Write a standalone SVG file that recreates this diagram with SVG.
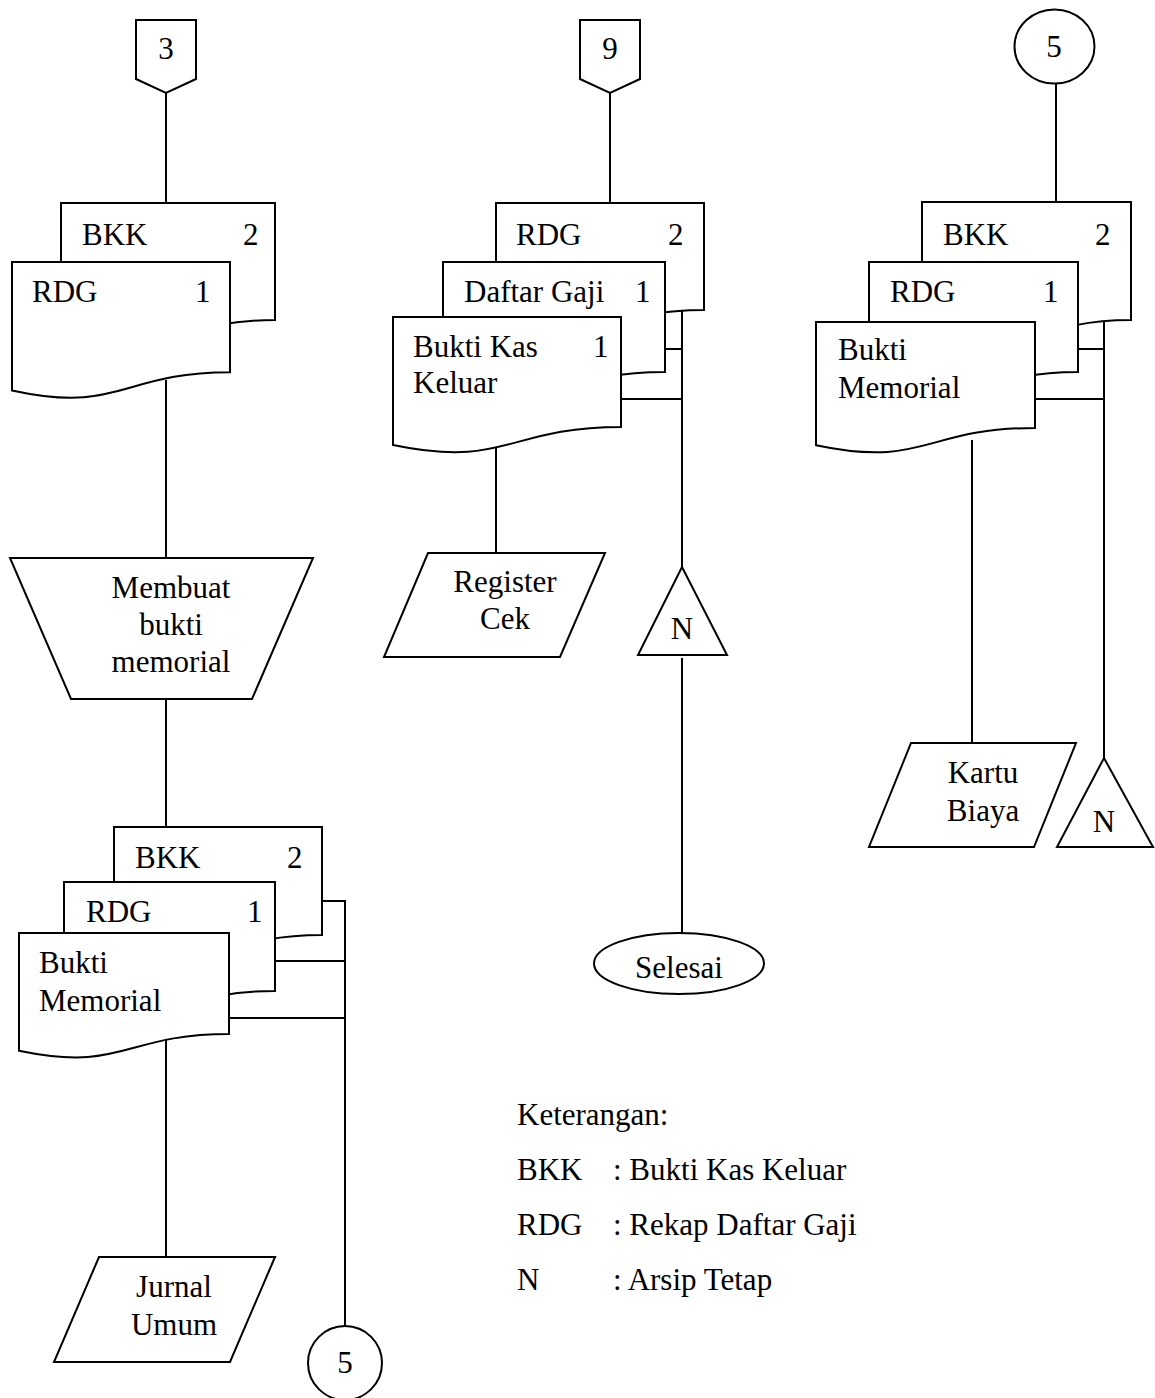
<svg xmlns="http://www.w3.org/2000/svg" width="1155" height="1398" viewBox="0 0 1155 1398">
<style>
.s{fill:#fff;stroke:#000;stroke-width:2;stroke-linejoin:miter}
.c line{stroke:#000;stroke-width:2}
text{font-family:"Liberation Serif","Times New Roman",serif;font-size:31px;fill:#000}
.m{text-anchor:middle}
</style>
<rect width="1155" height="1398" fill="#fff"/>
<g id="connectors" class="c">
<line x1="166" y1="93" x2="166" y2="203"/>
<line x1="166" y1="380" x2="166" y2="558"/>
<line x1="166" y1="699" x2="166" y2="827"/>
<line x1="166" y1="1040" x2="166" y2="1257"/>
<line x1="322" y1="901" x2="345" y2="901"/>
<line x1="275" y1="961" x2="345" y2="961"/>
<line x1="229" y1="1018" x2="346" y2="1018"/>
<line x1="345" y1="900" x2="345" y2="1326"/>
<line x1="610" y1="93" x2="610" y2="203"/>
<line x1="682" y1="310" x2="682" y2="567"/>
<line x1="665" y1="349" x2="682" y2="349"/>
<line x1="621" y1="399" x2="682" y2="399"/>
<line x1="496" y1="440" x2="496" y2="553"/>
<line x1="682" y1="658" x2="682" y2="933"/>
<line x1="1056" y1="83" x2="1056" y2="202"/>
<line x1="1104" y1="321" x2="1104" y2="758"/>
<line x1="1078" y1="349" x2="1104" y2="349"/>
<line x1="1035" y1="399" x2="1104" y2="399"/>
<line x1="972" y1="440" x2="972" y2="743"/>
</g>
<g id="offpage3"><path class="s" d="M136,20 H196 V79 L166,93 L136,79 Z"/><text class="m" x="166" y="59">3</text></g>
<g id="doc-bkk-a"><path class="s" d="M61,203 H275 V320 C168,320 168,364.8 61,339.4 Z"/><text x="82" y="245">BKK</text><text x="243" y="245">2</text></g>
<g id="doc-rdg-a"><path class="s" d="M12,262 H230 V372.3 C121,372.3 121,414.3 12,390.4 Z"/><text x="32" y="302">RDG</text><text x="195" y="302">1</text></g>
<g id="proc-membuat"><path class="s" d="M10,558 H313 L252,699 H71 Z"/><text class="m" x="171" y="598">Membuat</text><text class="m" x="171" y="635">bukti</text><text class="m" x="171" y="672">memorial</text></g>
<g id="doc-bkk-b"><path class="s" d="M114,827 H322 V935 C218,935 218,976 114,953 Z"/><text x="135" y="868">BKK</text><text x="287" y="868">2</text></g>
<g id="doc-rdg-b"><path class="s" d="M64,882 H275 V991 C170,991 170,1032.7 64,1009 Z"/><text x="86" y="922">RDG</text><text x="247" y="922">1</text></g>
<g id="doc-bm-b"><path class="s" d="M19,933 H229 V1034 C124,1034 124,1072.6 19,1050.7 Z"/><text x="39" y="973">Bukti</text><text x="39" y="1011">Memorial</text></g>
<g id="jurnal-umum"><path class="s" d="M99,1257 H275 L230,1362 H54 Z"/><text class="m" x="174" y="1297">Jurnal</text><text class="m" x="174" y="1335">Umum</text></g>
<g id="conn5-bottom"><circle class="s" cx="345" cy="1363" r="37"/><text class="m" x="345" y="1373">5</text></g>
<g id="offpage9"><path class="s" d="M580,20 H640 V79 L610,93 L580,79 Z"/><text class="m" x="610" y="59">9</text></g>
<g id="doc-rdg-c"><path class="s" d="M496,203 H704 V310 C600,310 600,350.5 496,327.6 Z"/><text x="516" y="245">RDG</text><text x="668" y="245">2</text></g>
<g id="doc-dg-c"><path class="s" d="M443,262 H665 V372 C554,372 554,413.8 443,390 Z"/><text x="464" y="302">Daftar Gaji</text><text x="635" y="302">1</text></g>
<g id="doc-bkk-c"><path class="s" d="M393,317 H621 V427 C507,427 507,468.8 393,445 Z"/><text x="413" y="357">Bukti Kas</text><text x="413" y="393">Keluar</text><text x="593" y="357">1</text></g>
<g id="register-cek"><path class="s" d="M428,553 H605 L560,657 H384 Z"/><text class="m" x="505" y="592">Register</text><text class="m" x="505" y="629">Cek</text></g>
<g id="arsip-n-c"><path class="s" d="M682,567 L727,655 H638 Z"/><text class="m" x="682" y="639">N</text></g>
<g id="selesai"><ellipse class="s" cx="679" cy="963.5" rx="85" ry="30.5"/><text class="m" x="679" y="978">Selesai</text></g>
<g id="conn5-top"><ellipse class="s" cx="1054.5" cy="46.5" rx="40" ry="37"/><text class="m" x="1054" y="57">5</text></g>
<g id="doc-bkk-d"><path class="s" d="M922,202 H1131 V320 C1026,320 1026,365 922,339.3 Z"/><text x="943" y="245">BKK</text><text x="1095" y="245">2</text></g>
<g id="doc-rdg-d"><path class="s" d="M869,262 H1078 V372 C973,372 973,413.8 869,390 Z"/><text x="890" y="302">RDG</text><text x="1043" y="302">1</text></g>
<g id="doc-bm-d"><path class="s" d="M816,322 H1035 V428 C925,428 925,468.3 816,445.3 Z"/><text x="838" y="360">Bukti</text><text x="838" y="398">Memorial</text></g>
<g id="kartu-biaya"><path class="s" d="M911,743 H1076 L1034,847 H869 Z"/><text class="m" x="983" y="783">Kartu</text><text class="m" x="983" y="821">Biaya</text></g>
<g id="arsip-n-d"><path class="s" d="M1104,758 L1153,847 H1057 Z"/><text class="m" x="1104" y="832">N</text></g>
<g id="keterangan">
<text x="517" y="1125">Keterangan:</text>
<text x="517" y="1180">BKK</text><text x="613" y="1180">: Bukti Kas Keluar</text>
<text x="517" y="1235">RDG</text><text x="613" y="1235">: Rekap Daftar Gaji</text>
<text x="517" y="1290">N</text><text x="613" y="1290">: Arsip Tetap</text>
</g>
</svg>
